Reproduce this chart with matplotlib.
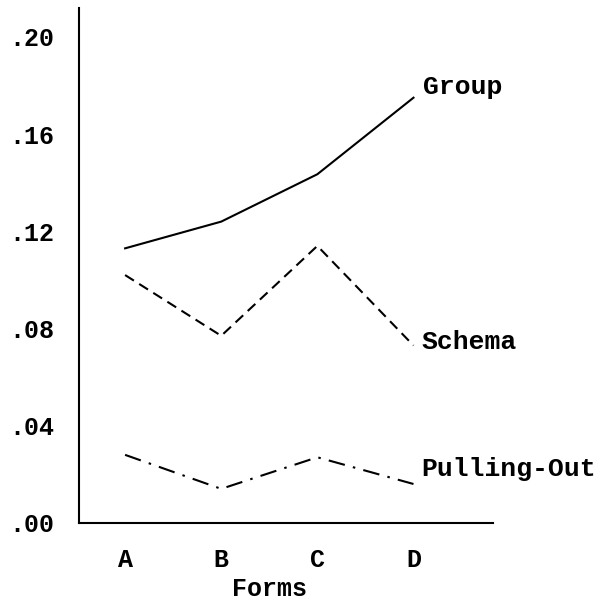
import matplotlib
matplotlib.use("Agg")
import matplotlib.pyplot as plt

# data
forms = ["A", "B", "C", "D"]
group = [0.113, 0.124, 0.1435, 0.175]
schema = [0.102, 0.077, 0.114, 0.073]
pulling = [0.028, 0.014, 0.027, 0.016]
yticks = [0.00, 0.04, 0.08, 0.12, 0.16, 0.20]
ytick_labels = [".00", ".04", ".08", ".12", ".16", ".20"]

FONT = "Liberation Mono"

fig = plt.figure(figsize=(6.12, 6.01), dpi=100)
ax = fig.add_axes([0.129, 0.130, 0.677, 0.857])

x = list(range(len(forms)))
ax.plot(x, group, color="black", linewidth=1.5, linestyle="-")
ax.plot(x, schema, color="black", linewidth=1.5, linestyle=(0, (5, 3)))
ax.plot(x, pulling, color="black", linewidth=1.5, linestyle=(0, (8, 4, 1.2, 4)))

# line labels at the right end
ax.text(3.1, 0.1795, "Group", fontsize=19, family=FONT, fontweight="bold",
        ha="left", va="center")
ax.text(3.08, 0.0745, "Schema", fontsize=19, family=FONT, fontweight="bold",
        ha="left", va="center")
ax.text(3.08, 0.022, "Pulling-Out", fontsize=19, family=FONT, fontweight="bold",
        ha="left", va="center", clip_on=False)

ax.set_xlim(-0.48, 3.83)
ax.set_ylim(0, 0.212)
ax.set_xticks(x)
ax.set_xticklabels(forms, fontsize=18, family=FONT, fontweight="bold")
ax.set_yticks(yticks)
ax.set_yticklabels(ytick_labels, fontsize=18, family=FONT, fontweight="bold")
ax.tick_params(axis="both", length=0)
ax.tick_params(axis="y", pad=18)
ax.tick_params(axis="x", pad=18)

ax.set_xlabel("Forms", fontsize=18, family=FONT, fontweight="bold")
ax.xaxis.set_label_coords((1.5 + 0.48) / (3.83 + 0.48), -0.105)

for side in ["top", "right"]:
    ax.spines[side].set_visible(False)
for side in ["left", "bottom"]:
    ax.spines[side].set_linewidth(1.5)
    ax.spines[side].set_color("black")

fig.savefig("out.png", dpi=100)
plt.close(fig)
